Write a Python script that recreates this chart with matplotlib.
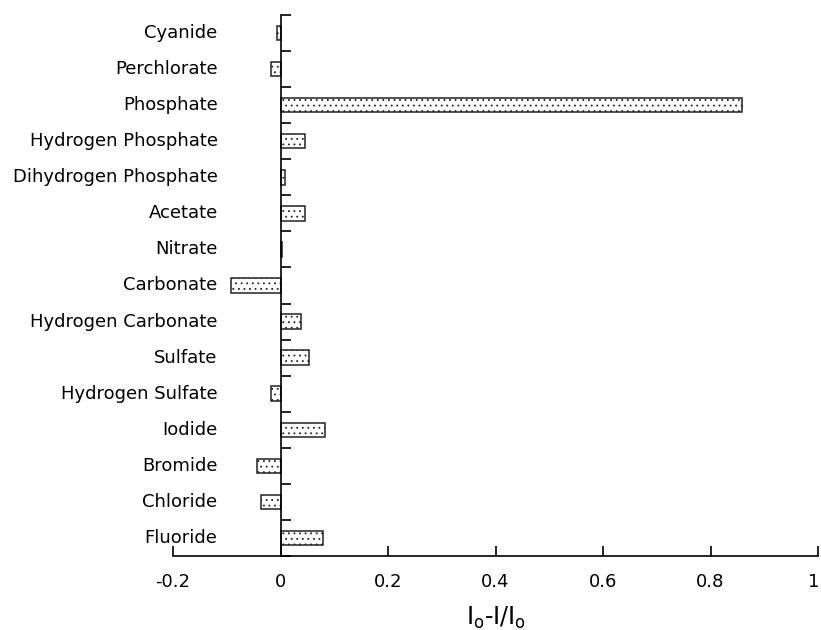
import matplotlib
matplotlib.use("Agg")
import matplotlib.pyplot as plt
import matplotlib.transforms as mtransforms
import numpy as np

plt.rcParams['font.family'] = ['DejaVu Sans']
plt.rcParams['hatch.linewidth'] = 0.6
plt.rcParams['hatch.color'] = '#444444'

# bottom to top
anions = ["Fluoride", "Chloride", "Bromide", "Iodide", "Hydrogen Sulfate",
          "Sulfate", "Hydrogen Carbonate", "Carbonate", "Nitrate", "Acetate",
          "Dihydrogen Phosphate", "Hydrogen Phosphate", "Phosphate",
          "Perchlorate", "Cyanide"]
values = [0.079, -0.037, -0.044, 0.082, -0.018,
          0.053, 0.038, -0.092, 0.003, 0.045,
          0.008, 0.045, 0.859,
          -0.018, -0.007]
xticks = [-0.2, 0, 0.2, 0.4, 0.6, 0.8, 1]
xticklabels = ["-0.2", "0", "0.2", "0.4", "0.6", "0.8", "1"]

fig = plt.figure(figsize=(8.21, 6.30), dpi=100)
ax = fig.add_axes([173/821, 1-556/630, (818-173)/821, (556-15)/630])

y = np.arange(len(anions))
ax.barh(y, values, height=0.4, color='white', edgecolor='#222222',
        linewidth=1.1, hatch='...')

ax.set_xlim(-0.2, 1.0)
ax.set_ylim(-0.5, len(anions) - 0.5)

for s in ['top', 'right']:
    ax.spines[s].set_visible(False)
ax.spines['left'].set_position(('data', 0))
ax.spines['left'].set_linewidth(1.2)
ax.spines['bottom'].set_linewidth(1.2)

ax.set_xticks(xticks)
ax.set_xticklabels(xticklabels, fontsize=13)
ax.tick_params(axis='x', direction='in', length=7, width=1.2, pad=12)
ax.set_yticks(np.arange(-0.5, len(anions), 1.0))
ax.set_yticklabels([])
ax.tick_params(axis='y', direction='in', length=7, width=1.2)

# nudge the last tick label so it stays inside the figure
last = ax.get_xticklabels()[-1]
last.set_transform(last.get_transform() +
                   mtransforms.ScaledTranslation(-4/100, 0, fig.dpi_scale_trans))

for yi, name in zip(y, anions):
    ax.text(-0.117, yi, name, ha='right', va='center', fontsize=13)

ax.set_xlabel(r'I$_\mathregular{o}$-I/I$_\mathregular{o}$', fontsize=17, labelpad=10)

fig.savefig("out.png", dpi=100)
